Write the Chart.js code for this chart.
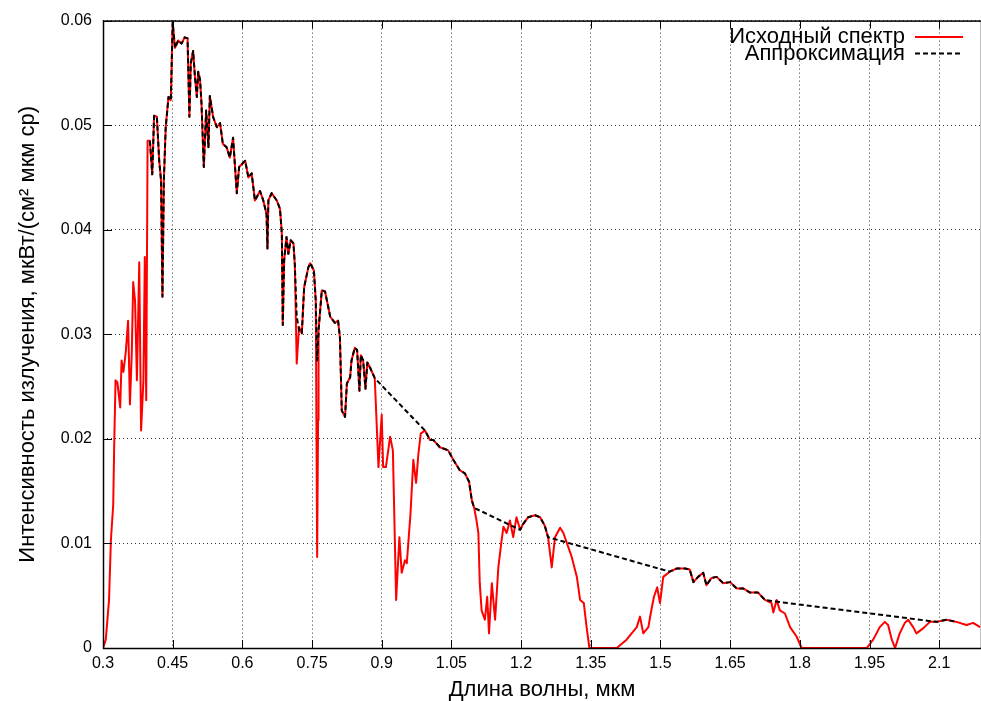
<!DOCTYPE html>
<html>
<head>
<meta charset="utf-8">
<title>Спектр</title>
<script src="https://cdn.jsdelivr.net/npm/chart.js@4/dist/chart.umd.min.js"></script>
<style>
	html, body { margin: 0; padding: 0; background: #fff; }
	#wrap { width: 981px; height: 701px; }
</style>
</head>
<body>
<div id="wrap"><canvas id="spectrumChart" width="981" height="701"></canvas></div>
<script>
/*jslint white:true*/
"use strict";

// wavelength, mkm / intensity of the source spectrum
var specX = [
	0.300, 0.306, 0.313, 0.317, 0.322, 0.324, 0.327, 0.331, 0.337, 0.340, 0.344, 0.349, 0.354, 0.358, 0.362, 0.365,
	0.369, 0.373, 0.378, 0.382, 0.387, 0.390, 0.393, 0.396, 0.401, 0.406, 0.410, 0.416, 0.421, 0.425, 0.428, 0.431,
	0.435, 0.441, 0.446, 0.450, 0.455, 0.462, 0.469, 0.476, 0.482, 0.486, 0.489, 0.494, 0.498, 0.502, 0.505, 0.509,
	0.512, 0.517, 0.522, 0.527, 0.530, 0.537, 0.545, 0.552, 0.558, 0.566, 0.573, 0.580, 0.588, 0.593, 0.606, 0.613,
	0.620, 0.627, 0.638, 0.645, 0.652, 0.654, 0.656, 0.663, 0.674, 0.681, 0.685, 0.687, 0.690, 0.695, 0.699, 0.704,
	0.710, 0.713, 0.717, 0.722, 0.728, 0.733, 0.742, 0.746, 0.754, 0.758, 0.760, 0.761, 0.763, 0.764, 0.771, 0.778,
	0.789, 0.799, 0.806, 0.810, 0.814, 0.821, 0.825, 0.832, 0.835, 0.842, 0.847, 0.852, 0.855, 0.860, 0.865, 0.869,
	0.875, 0.885, 0.893, 0.900, 0.903, 0.909, 0.918, 0.924, 0.931, 0.938, 0.943, 0.950, 0.954, 0.962, 0.968, 0.974,
	0.979, 0.984, 0.993, 1.004, 1.011, 1.025, 1.043, 1.054, 1.068, 1.079, 1.088, 1.094, 1.099, 1.104, 1.108, 1.111,
	1.115, 1.122, 1.127, 1.131, 1.137, 1.144, 1.151, 1.158, 1.162, 1.169, 1.176, 1.183, 1.190, 1.198, 1.205, 1.215,
	1.230, 1.241, 1.251, 1.258, 1.266, 1.273, 1.284, 1.291, 1.302, 1.309, 1.320, 1.327, 1.335, 1.341, 1.347, 1.406,
	1.427, 1.449, 1.456, 1.463, 1.474, 1.479, 1.486, 1.493, 1.499, 1.506, 1.520, 1.535, 1.553, 1.563, 1.571, 1.581,
	1.592, 1.599, 1.610, 1.621, 1.635, 1.650, 1.664, 1.678, 1.693, 1.710, 1.725, 1.739, 1.743, 1.750, 1.757, 1.768,
	1.779, 1.793, 1.804, 1.944, 1.958, 1.972, 1.983, 1.990, 1.998, 2.005, 2.015, 2.026, 2.033, 2.044, 2.051, 2.066,
	2.080, 2.094, 2.116, 2.137, 2.159, 2.173, 2.188
];
var specY = [
	0, 0.0008, 0.0046, 0.0103, 0.0137, 0.0191, 0.0256, 0.0254, 0.0230, 0.0275, 0.0264, 0.0283, 0.0313, 0.0233, 0.0283, 0.0350,
	0.0332, 0.0256, 0.0369, 0.0208, 0.0256, 0.0374, 0.0237, 0.0485, 0.0485, 0.0453, 0.0509, 0.0508, 0.0466, 0.0447, 0.0336, 0.0447,
	0.0498, 0.0527, 0.0524, 0.0598, 0.0574, 0.0581, 0.0578, 0.0584, 0.0583, 0.0508, 0.0559, 0.0571, 0.0546, 0.0527, 0.0551, 0.0543,
	0.0521, 0.0460, 0.0514, 0.0479, 0.0528, 0.0508, 0.0498, 0.0502, 0.0482, 0.0479, 0.0469, 0.0488, 0.0435, 0.0460, 0.0466, 0.0450,
	0.0454, 0.0428, 0.0437, 0.0428, 0.0415, 0.0382, 0.0428, 0.0435, 0.0428, 0.0420, 0.0396, 0.0309, 0.0371, 0.0393, 0.0377, 0.0390,
	0.0387, 0.0366, 0.0272, 0.0307, 0.0301, 0.0345, 0.0364, 0.0368, 0.0361, 0.0332, 0.0170, 0.0087, 0.0218, 0.0304, 0.0342, 0.0341,
	0.0317, 0.0311, 0.0313, 0.0297, 0.0227, 0.0221, 0.0253, 0.0259, 0.0275, 0.0287, 0.0285, 0.0246, 0.0280, 0.0275, 0.0248, 0.0273,
	0.0268, 0.0258, 0.0173, 0.0223, 0.0173, 0.0173, 0.0202, 0.0189, 0.0046, 0.0106, 0.0072, 0.0084, 0.0081, 0.0129, 0.0180, 0.0158,
	0.0186, 0.0205, 0.0208, 0.0199, 0.0199, 0.0192, 0.0189, 0.0180, 0.0170, 0.0167, 0.0159, 0.0141, 0.0134, 0.0122, 0.0110, 0.0062,
	0.0036, 0.0027, 0.0049, 0.0014, 0.0062, 0.0027, 0.0077, 0.0103, 0.0116, 0.0110, 0.0122, 0.0106, 0.0125, 0.0113, 0.0119, 0.0125,
	0.0127, 0.0125, 0.0117, 0.0106, 0.0077, 0.0106, 0.0115, 0.0110, 0.0096, 0.0087, 0.0068, 0.0046, 0.0043, 0.0020, 0, 0,
	0.0008, 0.0020, 0.0030, 0.0014, 0.0020, 0.0033, 0.0049, 0.0058, 0.0043, 0.0068, 0.0073, 0.0076, 0.0076, 0.0075, 0.0063, 0.0068,
	0.0072, 0.0060, 0.0067, 0.0068, 0.0062, 0.0063, 0.0057, 0.0057, 0.0053, 0.0053, 0.0046, 0.0043, 0.0034, 0.0046, 0.0036, 0.0033,
	0.0020, 0.0011, 0, 0, 0.0008, 0.0020, 0.0025, 0.0022, 0.0008, 0, 0.0014, 0.0024, 0.0027, 0.0020, 0.0014, 0.0019,
	0.0025, 0.0025, 0.0027, 0.0025, 0.0022, 0.0024, 0.0020
];

// approximation: follows the windows, straight across the absorption bands
var fitX = [
	0.401, 0.406, 0.410, 0.416, 0.421, 0.425, 0.428, 0.431, 0.435, 0.441, 0.446, 0.450, 0.455, 0.462, 0.469, 0.476,
	0.482, 0.486, 0.489, 0.494, 0.498, 0.502, 0.505, 0.509, 0.512, 0.517, 0.522, 0.527, 0.530, 0.537, 0.545, 0.552,
	0.558, 0.566, 0.573, 0.580, 0.588, 0.593, 0.606, 0.613, 0.620, 0.627, 0.638, 0.645, 0.652, 0.654, 0.656, 0.663,
	0.674, 0.681, 0.685, 0.687, 0.690, 0.695, 0.699, 0.704, 0.710, 0.713, 0.717, 0.722, 0.728, 0.733, 0.742, 0.746,
	0.754, 0.758, 0.761, 0.764, 0.771, 0.778, 0.789, 0.799, 0.806, 0.810, 0.814, 0.821, 0.825, 0.832, 0.835, 0.842,
	0.847, 0.852, 0.855, 0.860, 0.865, 0.869, 0.875, 0.885, 0.993, 1.004, 1.011, 1.025, 1.043, 1.054, 1.068, 1.079,
	1.088, 1.094, 1.099, 1.198, 1.205, 1.215, 1.230, 1.241, 1.251, 1.258, 1.520, 1.535, 1.553, 1.563, 1.571, 1.581,
	1.592, 1.599, 1.610, 1.621, 1.635, 1.650, 1.664, 1.678, 1.693, 1.710, 1.725, 1.739, 2.094, 2.116, 2.137
];
var fitY = [
	0.0485, 0.0453, 0.0509, 0.0508, 0.0466, 0.0447, 0.0336, 0.0447, 0.0498, 0.0527, 0.0524, 0.0598, 0.0574, 0.0581, 0.0578, 0.0584,
	0.0583, 0.0508, 0.0559, 0.0571, 0.0546, 0.0527, 0.0551, 0.0543, 0.0521, 0.0460, 0.0514, 0.0479, 0.0528, 0.0508, 0.0498, 0.0502,
	0.0482, 0.0479, 0.0469, 0.0488, 0.0435, 0.0460, 0.0466, 0.0450, 0.0454, 0.0428, 0.0437, 0.0428, 0.0415, 0.0382, 0.0428, 0.0435,
	0.0428, 0.0420, 0.0396, 0.0309, 0.0371, 0.0393, 0.0377, 0.0390, 0.0387, 0.0366, 0.0317, 0.0304, 0.0301, 0.0345, 0.0364, 0.0368,
	0.0361, 0.0332, 0.0275, 0.0304, 0.0342, 0.0341, 0.0317, 0.0311, 0.0313, 0.0297, 0.0227, 0.0221, 0.0253, 0.0259, 0.0275, 0.0287,
	0.0285, 0.0246, 0.0280, 0.0275, 0.0248, 0.0273, 0.0268, 0.0258, 0.0208, 0.0199, 0.0199, 0.0192, 0.0189, 0.0180, 0.0170, 0.0167,
	0.0159, 0.0141, 0.0134, 0.0113, 0.0119, 0.0125, 0.0127, 0.0125, 0.0117, 0.0106, 0.0073, 0.0076, 0.0076, 0.0075, 0.0063, 0.0068,
	0.0072, 0.0060, 0.0067, 0.0068, 0.0062, 0.0063, 0.0057, 0.0057, 0.0053, 0.0053, 0.0046, 0.0045, 0.0025, 0.0027, 0.0025
];

var xTicks = [0.3, 0.45, 0.6, 0.75, 0.9, 1.05, 1.2, 1.35, 1.5, 1.65, 1.8, 1.95, 2.1];
var xTickLabels = ["0.3", "0.45", "0.6", "0.75", "0.9", "1.05", "1.2", "1.35", "1.5", "1.65", "1.8", "1.95", "2.1"];
var yTicks = [0, 0.01, 0.02, 0.03, 0.04, 0.05, 0.06];
var yTickLabels = ["0", "0.01", "0.02", "0.03", "0.04", "0.05", "0.06"];

var seriesLabels = ["Исходный спектр", "Аппроксимация"];
var xTitle = "Длина волны, мкм";
var yTitle = "Интенсивность излучения, мкВт/(см² мкм ср)";

var FONT = "'Liberation Sans', Arial, sans-serif";

function toPoints(xs, ys) {
	var i, pts = [];
	for (i = 0; i < xs.length; i++) {
		pts.push({ x: xs[i], y: ys[i] });
	}
	return pts;
}

/** gnuplot-like frame with inward ticks and a key in the top right corner */
var gnuplotFrame = {
	id: "gnuplotFrame",
	afterDraw: function (chart) {
		var ctx = chart.ctx, a = chart.chartArea,
			xs = chart.scales.x, ys = chart.scales.y, i, p, ds, ky;
		ctx.save();
		ctx.strokeStyle = "#000";
		ctx.lineWidth = 1;
		ctx.beginPath();
		for (i = 0; i < xTicks.length; i++) {
			p = Math.round(xs.getPixelForValue(xTicks[i])) + 0.5;
			ctx.moveTo(p, a.bottom);
			ctx.lineTo(p, a.bottom - 8);
			ctx.moveTo(p, a.top);
			ctx.lineTo(p, a.top + 8);
		}
		for (i = 0; i < yTicks.length; i++) {
			p = Math.round(ys.getPixelForValue(yTicks[i])) + 0.5;
			ctx.moveTo(a.left, p);
			ctx.lineTo(a.left + 9, p);
		}
		ctx.stroke();
		ctx.lineWidth = 1.5;
		ctx.strokeRect(a.left + 0.5, a.top + 0.5, a.right - a.left, a.bottom - a.top);

		// key
		ctx.font = "22px " + FONT;
		ctx.textAlign = "right";
		ctx.textBaseline = "middle";
		ctx.fillStyle = "#000";
		for (i = 0; i < chart.data.datasets.length; i++) {
			ds = chart.data.datasets[i];
			ky = 37 + i * 16.5;
			ctx.fillText(ds.label, 905, ky);
			ctx.beginPath();
			ctx.lineWidth = 2;
			ctx.strokeStyle = ds.borderColor;
			ctx.setLineDash(ds.borderDash || []);
			ctx.moveTo(915, ky);
			ctx.lineTo(963, ky);
			ctx.stroke();
			ctx.setLineDash([]);
		}
		ctx.restore();
	}
};

Chart.defaults.font.family = FONT;
Chart.defaults.color = "#000";

var chart = new Chart(document.getElementById("spectrumChart"), {
	type: "line",
	data: {
		datasets: [{
			label: seriesLabels[0],
			data: toPoints(specX, specY),
			borderColor: "#ff0000",
			borderWidth: 2,
			order: 1
		}, {
			label: seriesLabels[1],
			data: toPoints(fitX, fitY),
			borderColor: "#000000",
			borderWidth: 2,
			borderDash: [5, 3],
			order: 0
		}]
	},
	options: {
		responsive: false,
		animation: false,
		events: [],
		layout: { padding: { top: 20, right: 0, left: 0, bottom: 0 } },
		elements: {
			point: { radius: 0 },
			line: { tension: 0, borderJoinStyle: "round" }
		},
		plugins: {
			legend: { display: false },
			tooltip: { enabled: false }
		},
		scales: {
			x: {
				type: "linear",
				min: 0.3,
				max: 2.19,
				afterBuildTicks: function (scale) {
					scale.ticks = xTicks.map(function (v) { return { value: v }; });
				},
				afterFit: function (scale) { scale.height = 53; },
				ticks: {
					autoSkip: false,
					maxRotation: 0,
					padding: 6,
					font: { size: 16 },
					callback: function (v) { return xTickLabels[xTicks.indexOf(v)]; }
				},
				grid: { color: "rgba(0,0,0,0.8)", lineWidth: 1, drawTicks: false },
				border: { display: false, dash: [1, 3] },
				title: {
					display: true,
					text: xTitle,
					font: { size: 22 },
					padding: { top: 0, bottom: -2 }
				}
			},
			y: {
				type: "linear",
				min: 0,
				max: 0.06,
				afterBuildTicks: function (scale) {
					scale.ticks = yTicks.map(function (v) { return { value: v }; });
				},
				afterFit: function (scale) { scale.width = 103; },
				ticks: {
					padding: 11,
					font: { size: 16 },
					callback: function (v) { return yTickLabels[yTicks.indexOf(v)]; }
				},
				grid: { color: "rgba(0,0,0,0.8)", lineWidth: 1, drawTicks: false },
				border: { display: false, dash: [1, 3] },
				title: {
					display: true,
					text: yTitle,
					font: { size: 22 },
					padding: { top: 15, bottom: 0 }
				}
			}
		}
	},
	plugins: [gnuplotFrame]
});
</script>
</body>
</html>
